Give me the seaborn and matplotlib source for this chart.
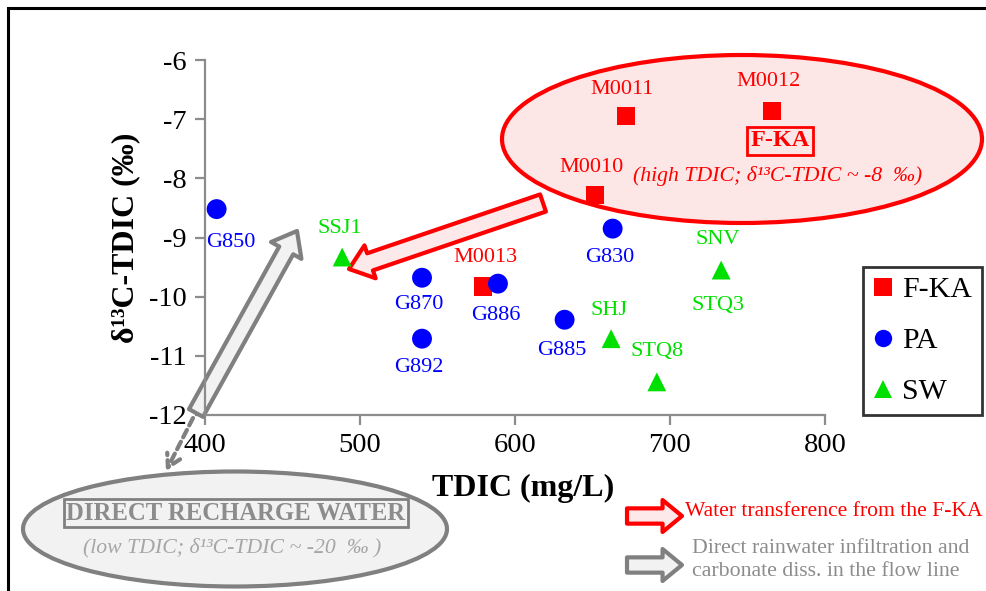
import matplotlib
matplotlib.use("Agg")
import matplotlib.pyplot as plt
from matplotlib.patches import Ellipse, Rectangle, FancyArrowPatch
from matplotlib.lines import Line2D
import pandas as pd
import seaborn as sns

# sample data
sample = ["M0011", "M0012", "M0010", "M0013",
          "G850", "G870", "G892", "G886", "G885", "G830",
          "SSJ1", "SHJ", "STQ8", "SNV"]
group = ["F-KA", "F-KA", "F-KA", "F-KA",
         "PA", "PA", "PA", "PA", "PA", "PA",
         "SW", "SW", "SW", "SW"]
tdic = [671.5, 766, 651.5, 579.5,
        407.5, 540, 540, 589, 632, 663,
        488.5, 662, 691.5, 733]
d13c = [-6.95, -6.86, -8.28, -9.83,
        -8.52, -9.68, -10.71, -9.78, -10.39, -8.85,
        -9.33, -10.71, -11.44, -9.55]

groups = ["F-KA", "PA", "SW"]
colors = ["#ff0000", "#0000ff", "#00e000"]
markers = ["s", "o", "^"]

W, H = 986, 591


def px(x, y):
    # figure pixel (from top-left) -> figure fraction
    return (x / W, 1 - y / H)


sns.set_style("ticks")
plt.rcParams["font.family"] = ["Liberation Serif", "DejaVu Serif"]
plt.rcParams["axes.unicode_minus"] = False
plt.rcParams["text.color"] = "black"
plt.rcParams["axes.labelcolor"] = "black"
plt.rcParams["xtick.labelcolor"] = "black"
plt.rcParams["ytick.labelcolor"] = "black"

fig = plt.figure(figsize=(W / 100, H / 100), dpi=100)
ax = fig.add_axes([205 / W, 1 - 415 / H, 620 / W, 355 / H])

df = pd.DataFrame({"sample": sample, "group": group, "tdic": tdic, "d13c": d13c})
pal = dict(zip(groups, colors))
sns.scatterplot(data=df, x="tdic", y="d13c", hue="group", style="group",
                size="group", sizes={"F-KA": 175, "PA": 205, "SW": 185},
                palette=pal, markers=dict(zip(groups, markers)),
                linewidth=0, legend=False, ax=ax, zorder=3)

ax.set_xlim(400, 800)
ax.set_ylim(-12, -6)
ax.set_xticks([400, 500, 600, 700, 800])
ax.set_yticks([-12, -11, -10, -9, -8, -7, -6])
sns.despine(ax=ax)
for s in ["left", "bottom"]:
    ax.spines[s].set_color("#8c8c8c")
    ax.spines[s].set_linewidth(1.6)
ax.tick_params(direction="out", length=7, width=1.6, color="#8c8c8c",
               labelsize=20.5, pad=6, labelcolor="black")
ax.set_xlabel("TDIC (mg/L)", fontsize=23, fontweight="bold", color="black")
ax.set_ylabel("δ¹³C-TDIC (‰)", fontsize=23, fontweight="bold", color="black")
ax.xaxis.set_label_coords(0.513, -0.165)
ax.yaxis.set_label_coords(-0.105, 0.50)

# point labels: offsets in pixels
offsets = {"M0011": (-4, 27), "M0012": (-4, 29), "M0010": (-3, 27), "M0013": (2, 29),
           "G850": (14, -33), "G870": (-3, -27), "G892": (-3, -29), "G886": (-2, -32),
           "G885": (-3, -31), "G830": (-3, -29),
           "SSJ1": (-2, 29), "SHJ": (-2, 28), "STQ8": (0, 30), "SNV": (-3, 31)}
for nm, g, x, y in zip(sample, group, tdic, d13c):
    ax.annotate(nm, (x, y), xytext=offsets[nm], textcoords="offset pixels",
                ha="center", va="center", fontsize=16, color=pal[g], zorder=4)
ax.annotate("STQ3", (tdic[sample.index("SNV")], d13c[sample.index("SNV")]),
            xytext=(-3, -35), textcoords="offset pixels", ha="center", va="center",
            fontsize=16, color=pal["SW"], zorder=4)

tf = fig.transFigure

# F-KA ellipse
ax.add_patch(Ellipse(px(742, 139), 480 / W, 168 / H, transform=tf, clip_on=False,
                     fc="#fce6e6", ec="#ff0000", lw=3, zorder=1))
ax.text(*px(780, 141), "F-KA", transform=tf, ha="center", va="center", fontsize=17.5,
        fontweight="bold", color="#ff0000", zorder=4,
        bbox=dict(boxstyle="square,pad=0.15", fc="none", ec="#ff0000", lw=2))
ax.text(*px(778, 176), "(high TDIC; δ¹³C-TDIC ~ -8  ‰)", transform=tf, ha="center",
        va="center", fontsize=15.7, style="italic", color="#ff0000", zorder=4)

# direct recharge ellipse
ax.add_patch(Ellipse(px(235, 529), 424 / W, 115 / H, transform=tf, clip_on=False,
                     fc="#f2f2f2", ec="#808080", lw=3, zorder=1))
ax.text(*px(236, 513), "DIRECT RECHARGE WATER", transform=tf, ha="center", va="center",
        fontsize=17.8, fontweight="bold", color="#8c8c8c", zorder=4,
        bbox=dict(boxstyle="square,pad=0.1", fc="none", ec="#808080", lw=2))
ax.text(*px(232, 548), "(low TDIC; δ¹³C-TDIC ~ -20  ‰ )", transform=tf, ha="center",
        va="center", fontsize=15.7, style="italic", color="#a6a6a6", zorder=4)


def block_arrow(p0, p1, ec, fc, tw=13, hw=25, hl=16):
    a = FancyArrowPatch(px(*p0), px(*p1), transform=tf, clip_on=False,
                        arrowstyle=f"simple,head_length={hl},head_width={hw},tail_width={tw}",
                        mutation_scale=1, shrinkA=0, shrinkB=0,
                        fc=fc, ec=ec, lw=3, zorder=2)
    ax.add_patch(a)


block_arrow((543, 203), (349, 269), "#ff0000", "#fde9e9")
block_arrow((196, 413), (297, 231), "#808080", "#f2f2f2", tw=11.5)
ax.add_patch(FancyArrowPatch(px(193, 418), px(166, 471), transform=tf, clip_on=False,
                             arrowstyle="->,head_length=7,head_width=4", mutation_scale=1.3,
                             shrinkA=0, shrinkB=0, color="#808080", lw=3,
                             linestyle=(0, (2, 1.2)), zorder=2))

# arrow key at bottom
block_arrow((627, 516), (682, 516), "#ff0000", "#fde9e9", tw=11, hw=23, hl=14)
block_arrow((627, 565), (682, 565), "#808080", "#f2f2f2", tw=11, hw=23, hl=14)
ax.text(*px(685, 512), "Water transference from the F-KA", transform=tf, ha="left",
        va="center", fontsize=15.6, color="#ff0000")
ax.text(*px(692, 560), "Direct rainwater infiltration and\ncarbonate diss. in the flow line",
        transform=tf, ha="left", va="center", fontsize=15.7, color="#8c8c8c",
        linespacing=1.25)

# legend
handles = [Line2D([], [], ls="none", marker=m, color=c, markersize=12.5 if m != "^" else 13,
                  markeredgewidth=0) for m, c in zip(markers, colors)]
leg = ax.legend(handles, groups, loc="upper left", bbox_to_anchor=px(863, 267),
                bbox_transform=tf, fontsize=21.5, frameon=True, fancybox=False,
                handlelength=0.7, handletextpad=0.3, labelspacing=0.8,
                borderpad=0.32, borderaxespad=0)
leg.get_frame().set_edgecolor("black")
leg.get_frame().set_linewidth(2)

# outer frame of the figure
fig.add_artist(Rectangle(px(8, 640), 1.1, 632 / H, transform=tf, fill=False,
                         ec="black", lw=2.2))

fig.savefig("out.png", dpi=100)
